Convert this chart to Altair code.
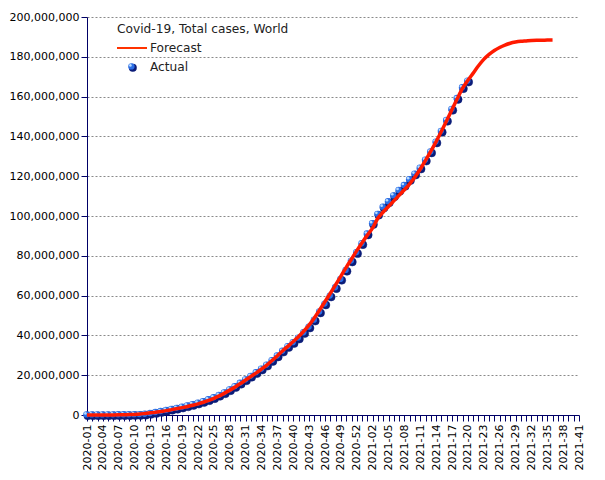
import json
import altair as alt
import pandas as pd

# ISO weeks 2020-01 .. 2021-41 (2020 has 53 weeks)
weeks = [f"2020-{w:02d}" for w in range(1, 54)] + [f"2021-{w:02d}" for w in range(1, 42)]

# Actual total cases, millions (2020-01 .. 2021-20)
actual_m = [0, 0, 0, 0.01, 0.03, 0.04, 0.06, 0.075, 0.085,
            0.11, 0.17, 0.33, 0.72, 1.2, 1.7, 2.25, 2.8, 3.3, 3.9, 4.5,
            5.2, 5.9, 6.7, 7.6, 8.6, 9.8, 11.1, 12.6, 14.2, 15.9,
            17.6, 19.4, 21.2, 23.0, 25.0, 27.3, 29.6, 32.0, 34.3, 36.3,
            38.6, 41.3, 44.1, 47.6, 51.7, 55.7, 59.7, 63.9, 68.1, 72.6,
            77.3, 81.5, 86.0,
            90.9, 96.1, 100.8, 104.4, 107.1, 110.1, 112.8, 115.3, 118.2, 121.0,
            124.0, 128.0, 132.1, 137.1, 142.5, 148.0, 153.5, 159.0, 164.4, 167.7]

# Forecast total cases, millions (2020-01 .. 2021-36)
forecast_m = [0, 0, 0, 0, 0, 0.05, 0.1, 0.15, 0.2,
              0.3, 0.5, 0.8, 1.1, 1.4, 1.8, 2.2, 2.7, 3.2, 3.7, 4.3,
              4.9, 5.6, 6.4, 7.3, 8.4, 9.6, 11.0, 12.5, 14.1, 15.8,
              17.6, 19.4, 21.2, 23.1, 25.1, 27.4, 29.8, 32.3, 34.6, 36.9,
              39.4, 42.2, 45.3, 48.9, 52.9, 57.0, 61.2, 65.5, 69.8, 74.2,
              78.4, 82.6, 86.6,
              90.4, 94.0, 99.0, 102.0, 104.8, 107.6, 110.4, 113.2, 116.2, 119.6,
              123.6, 128.0, 132.6, 137.4, 142.6, 148.0, 153.5, 159.0, 164.2, 168.2,
              171.8, 175.5, 178.7, 181.2, 183.2, 184.7, 185.9, 186.8, 187.4, 187.8,
              188.0, 188.2, 188.3, 188.3, 188.4, 188.4]

y_ticks = list(range(0, 200_000_001, 20_000_000))

legend_title = "Covid-19, Total cases, World"
legend_labels = ["Forecast", "Actual"]

act = pd.DataFrame({
    "i": list(range(len(actual_m))),
    "week": weeks[:len(actual_m)],
    "cases": [v * 1e6 for v in actual_m],
})
fc = pd.DataFrame({
    "i": list(range(len(forecast_m))),
    "week": weeks[:len(forecast_m)],
    "cases": [v * 1e6 for v in forecast_m],
})
one = pd.DataFrame({"k": [0]})

label_expr = f"datum.value % 3 == 0 ? {json.dumps(weeks)}[datum.value] : ''"

x_enc = alt.X(
    "i:Q",
    scale=alt.Scale(domain=[0, len(weeks) - 1], nice=False, zero=False),
    axis=alt.Axis(
        title=None, values=list(range(len(weeks))), labelExpr=label_expr,
        labelAngle=-90, labelAlign="right", labelBaseline="middle",
        grid=False, labelFont="DejaVu Sans", labelFontSize=11, labelColor="#000000",
        domainColor="#000066", tickColor="#000066", tickSize=6, labelPadding=3,
        labelOverlap=False, labelFlush=False,
    ),
)
y_enc = alt.Y(
    "cases:Q",
    scale=alt.Scale(domain=[0, 200_000_000], nice=False),
    axis=alt.Axis(
        title=None, values=y_ticks, format=",d", grid=True,
        gridColor="#8a8a8a", gridDash=[2, 2], gridWidth=1,
        labelFont="DejaVu Sans", labelFontSize=11, labelColor="#000000",
        domainColor="#000066", tickColor="#000066", tickSize=6, labelPadding=2,
    ),
)

DARK, MID, HI = "#0b1c78", "#2b6ee6", "#b8dcff"

dark = alt.Chart(act).mark_circle(size=64, color=DARK, opacity=1, xOffset=0.8, yOffset=0.8,
                                  stroke=DARK, strokeWidth=0.5).encode(x=x_enc, y=y_enc)
mid = alt.Chart(act).mark_circle(size=40, color=MID, opacity=1, xOffset=-0.6, yOffset=-0.6).encode(
    x=x_enc, y=y_enc)
hi = alt.Chart(act).mark_circle(size=7, color=HI, opacity=1, xOffset=-1.6, yOffset=-1.6).encode(
    x=x_enc, y=y_enc)
line = alt.Chart(fc).mark_line(strokeWidth=3.5, color="#ff1a00", interpolate="monotone").encode(
    x=x_enc, y=y_enc)

# legend (drawn inside the plot area)
txt_style = dict(font="DejaVu Sans", fontSize=12.2, color="#222222", align="left", baseline="middle")
leg_title = alt.Chart(one).mark_text(text=legend_title, **txt_style).encode(
    x=alt.value(30), y=alt.value(12))
leg_line = alt.Chart(one).mark_rule(color="#ff3300", strokeWidth=2).encode(
    x=alt.value(30), x2=alt.value(60), y=alt.value(31))
leg_fc = alt.Chart(one).mark_text(text=legend_labels[0], **txt_style).encode(
    x=alt.value(63), y=alt.value(31))
leg_d = alt.Chart(one).mark_circle(size=64, color=DARK, opacity=1, xOffset=0.8, yOffset=0.8).encode(
    x=alt.value(45), y=alt.value(50))
leg_m = alt.Chart(one).mark_circle(size=40, color=MID, opacity=1, xOffset=-0.6, yOffset=-0.6).encode(
    x=alt.value(45), y=alt.value(50))
leg_h = alt.Chart(one).mark_circle(size=7, color=HI, opacity=1, xOffset=-1.6, yOffset=-1.6).encode(
    x=alt.value(45), y=alt.value(50))
leg_ac = alt.Chart(one).mark_text(text=legend_labels[1], **txt_style).encode(
    x=alt.value(63), y=alt.value(50))

chart = alt.layer(
    dark, mid, hi, line,
    leg_title, leg_line, leg_fc, leg_d, leg_m, leg_h, leg_ac,
).properties(
    width=492, height=398,
    padding={"left": 1, "top": 3, "right": 5, "bottom": 0},
    background="#ffffff",
).configure_view(stroke=None)

chart.save("out.html", embed_options={"renderer": "svg", "actions": False})
